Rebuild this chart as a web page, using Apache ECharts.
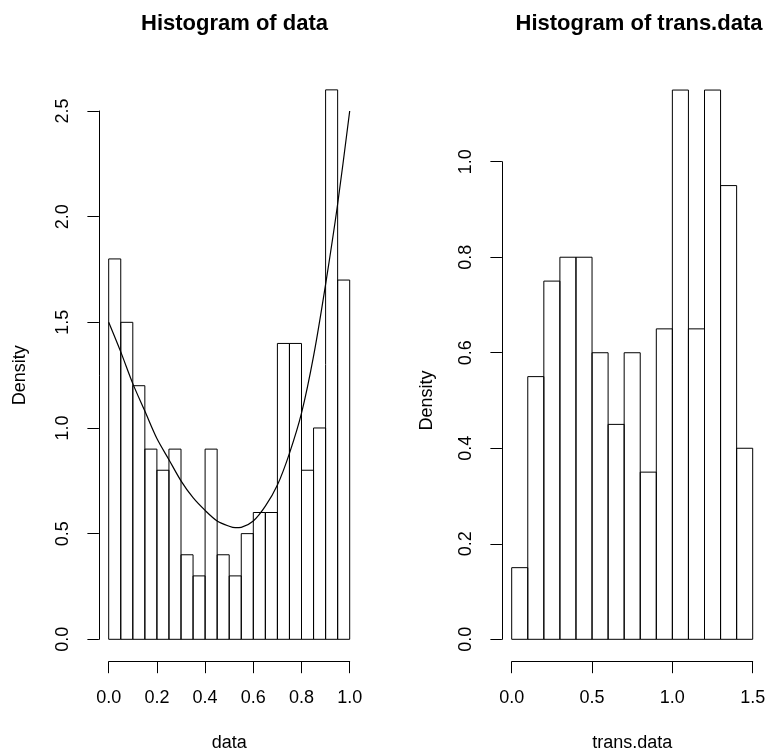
<!DOCTYPE html>
<html>
<head>
<meta charset="utf-8">
<script src="https://cdn.jsdelivr.net/npm/echarts@6/dist/echarts.min.js"></script>
<style>
  html, body { margin: 0; padding: 0; background: #fff; }
  #main { width: 767px; height: 752px; }
</style>
</head>
<body>
<div id="main"></div>
<script>
    // left panel: histogram of data (bin edges + densities) and fitted curve
    var dataBreaks = [0, 0.05, 0.1, 0.15, 0.2, 0.25, 0.3, 0.35, 0.4, 0.45, 0.5,
                      0.55, 0.6, 0.65, 0.7, 0.75, 0.8, 0.85, 0.9, 0.95, 1.0];
    var dataDensity = [1.8, 1.5, 1.2, 0.9, 0.8, 0.9, 0.4, 0.3, 0.9, 0.4,
                       0.3, 0.5, 0.6, 0.6, 1.4, 1.4, 0.8, 1.0, 2.6, 1.7];
    var curveX = [0, 0.05, 0.1, 0.15, 0.2, 0.25, 0.3, 0.35, 0.4, 0.45, 0.5, 0.525,
                  0.55, 0.6, 0.65, 0.7, 0.75, 0.8, 0.85, 0.9, 0.95, 1.0];
    var curveY = [1.5, 1.36, 1.21, 1.08, 0.95, 0.85, 0.75, 0.67, 0.61, 0.56, 0.535, 0.528,
                  0.53, 0.56, 0.63, 0.73, 0.88, 1.07, 1.34, 1.68, 2.06, 2.5];

    // right panel: histogram of trans.data
    var transBreaks = [0, 0.1, 0.2, 0.3, 0.4, 0.5, 0.6, 0.7, 0.8, 0.9, 1.0,
                       1.1, 1.2, 1.3, 1.4, 1.5];
    var transDensity = [0.15, 0.55, 0.75, 0.8, 0.8, 0.6, 0.45, 0.6, 0.35, 0.65,
                        1.15, 0.65, 1.15, 0.95, 0.4];

    var font = "'Liberation Sans', Arial, Helvetica, sans-serif";
    var labelSize = 18;

    function bins(breaks, dens) {
        return dens.map(function (d, i) { return [breaks[i], breaks[i + 1], d]; });
    }

    function histRect(params, api) {
        var top = api.coord([api.value(0), api.value(2)]);
        var bot = api.coord([api.value(1), 0]);
        return {
            type: 'rect',
            shape: { x: top[0], y: top[1], width: bot[0] - top[0], height: bot[1] - top[1] },
            style: { fill: 'none', stroke: '#000', lineWidth: 1 }
        };
    }

    function fmt(v) { return v.toFixed(1); }

    function xAxis(idx, max, step, name) {
        return {
            type: 'value', gridIndex: idx, min: 0, max: max, interval: step,
            offset: 22.4,
            name: name, nameLocation: 'middle', nameGap: 72,
            nameTextStyle: { fontFamily: font, fontSize: labelSize, color: '#000' },
            axisLine: { show: true, onZero: false, lineStyle: { color: '#000', width: 1 } },
            axisTick: { show: true, length: 11.5, lineStyle: { color: '#000', width: 1 } },
            axisLabel: { show: true, margin: 27, formatter: fmt, showMinLabel: true, showMaxLabel: true,
                         fontFamily: font, fontSize: labelSize, color: '#000' },
            splitLine: { show: false }
        };
    }

    function yAxis(idx, max, step, gap) {
        return {
            type: 'value', gridIndex: idx, min: 0, max: max, interval: step,
            offset: 9.8,
            name: 'Density', nameLocation: 'middle', nameGap: gap, nameRotate: 90,
            nameTextStyle: { fontFamily: font, fontSize: labelSize, color: '#000' },
            axisLine: { show: true, onZero: false, lineStyle: { color: '#000', width: 1 } },
            axisTick: { show: true, length: 11.5, lineStyle: { color: '#000', width: 1 } },
            axisLabel: { show: true, rotate: 90, margin: 27, formatter: fmt, showMinLabel: true, showMaxLabel: true,
                         fontFamily: font, fontSize: labelSize, color: '#000' },
            splitLine: { show: false }
        };
    }

    var myChart = echarts.init(document.getElementById('main'));
    var option = {
        backgroundColor: '#fff',
        animation: false,
        title: [
            { text: 'Histogram of data', left: 229.5, top: 8, textAlign: 'center',
              textStyle: { fontFamily: font, fontSize: 22, fontWeight: 'bold', color: '#000' } },
            { text: 'Histogram of trans.data', left: 634, top: 8, textAlign: 'center',
              textStyle: { fontFamily: font, fontSize: 22, fontWeight: 'bold', color: '#000' } }
        ],
        grid: [
            { left: 108.7, right: 417.3, top: 111, bottom: 112.7, containLabel: false, outerBoundsMode: 'none' },
            { left: 511.7, right: 14.3, top: 161.7, bottom: 112.7, containLabel: false, outerBoundsMode: 'none' }
        ],
        xAxis: [xAxis(0, 1.0, 0.2, 'data'), xAxis(1, 1.5, 0.5, 'trans.data')],
        yAxis: [yAxis(0, 2.5, 0.5, 70), yAxis(1, 1.0, 0.2, 66)],
        series: [
            {
                type: 'custom', xAxisIndex: 0, yAxisIndex: 0, clip: false,
                renderItem: histRect, encode: { x: [0, 1], y: 2 },
                data: bins(dataBreaks, dataDensity), silent: true
            },
            {
                type: 'line', xAxisIndex: 0, yAxisIndex: 0, showSymbol: false, smooth: 0.3,
                lineStyle: { color: '#000', width: 1.2 }, silent: true, clip: false,
                data: curveX.map(function (x, i) { return [x, curveY[i]]; })
            },
            {
                type: 'custom', xAxisIndex: 1, yAxisIndex: 1, clip: false,
                renderItem: histRect, encode: { x: [0, 1], y: 2 },
                data: bins(transBreaks, transDensity), silent: true
            }
        ]
    };
    myChart.setOption(option);
</script>
</body>
</html>
